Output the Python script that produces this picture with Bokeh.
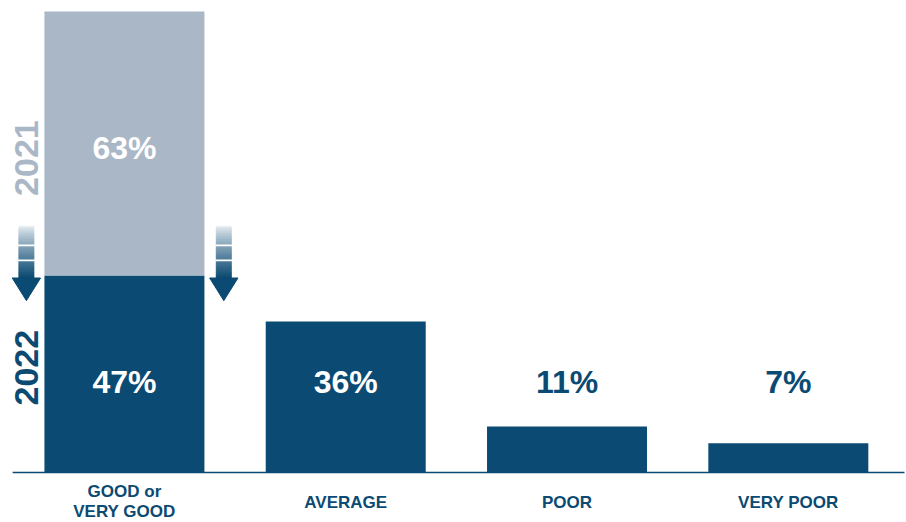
import numpy as np
from bokeh.plotting import figure
from bokeh.models import Range1d
from bokeh.core.properties import value
from bokeh.embed import file_html
from bokeh.resources import INLINE

# ---- data ----
categories = ["GOOD or\nVERY GOOD", "AVERAGE", "POOR", "VERY POOR"]
values_2022 = [47, 36, 11, 7]
values_2021_good = 63  # only the first category has a 2021 comparison
years = ["2021", "2022"]

DARK = "#0b4a72"
GRAY = "#aab7c7"
FONT = value("Liberation Sans")

p = figure(width=906, height=522, output_backend="svg", toolbar_location=None,
           min_border=0, min_border_left=0, min_border_right=0,
           min_border_top=0, min_border_bottom=0)
p.x_range = Range1d(-0.560, 3.534)
p.y_range = Range1d(-11.93, 112.6)
p.axis.visible = False
p.grid.visible = False
p.outline_line_color = None
p.background_fill_color = "white"
p.border_fill_color = "white"

xs = np.arange(len(categories))
bw = 0.723

# 2022 bars
p.vbar(x=xs, top=values_2022, bottom=0, width=bw, fill_color=DARK, line_color=None)
# 2021 stacked on top of first bar
p.vbar(x=[0], bottom=[values_2022[0]], top=[values_2022[0] + values_2021_good],
       width=bw, fill_color=GRAY, line_color=None)

# baseline
p.segment(x0=[xs[0] - 0.505], x1=[xs[-1] + 0.525], y0=[0], y1=[0],
          line_color=DARK, line_width=1.5)

# value labels
lab_y = 21.7
cols = ["white" if v > 20 else DARK for v in values_2022]
p.text(x=xs, y=[lab_y] * len(xs), text=[f"{v}%" for v in values_2022],
       text_color=cols, text_font=FONT, text_font_style="bold",
       text_font_size="32px", text_align="center", text_baseline="middle")
p.text(x=[0], y=[values_2022[0] + values_2021_good / 2 - 1.2],
       text=[f"{values_2021_good}%"], text_color="white", text_font=FONT,
       text_font_style="bold", text_font_size="32px",
       text_align="center", text_baseline="middle")

# category labels
for i, c in enumerate(categories):
    lines = c.split("\n")
    if len(lines) == 1:
        p.text(x=[xs[i]], y=[-7.2], text=[lines[0]], text_color=DARK, text_font=FONT,
               text_font_style="bold", text_font_size="17px",
               text_align="center", text_baseline="middle")
    else:
        for j, ln in enumerate(lines):
            p.text(x=[xs[i]], y=[-4.6 - j * 4.7], text=[ln], text_color=DARK, text_font=FONT,
                   text_font_style="bold", text_font_size="17px",
                   text_align="center", text_baseline="middle")

# rotated year labels
yx = -0.443
p.text(x=[yx], y=[75.0], text=[years[0]], angle=np.pi / 2, text_color=GRAY,
       text_font=FONT, text_font_style="bold", text_font_size="34px",
       text_align="center", text_baseline="middle")
p.text(x=[yx], y=[25.0], text=[years[1]], angle=np.pi / 2, text_color=DARK,
       text_font=FONT, text_font_style="bold", text_font_size="34px",
       text_align="center", text_baseline="middle")

# gradient arrows
def hexc(rgb):
    return "#%02x%02x%02x" % tuple(int(round(c)) for c in rgb)

c_top = np.array([235, 240, 244])
c_bot = np.array([11, 74, 114])
shaft_top, shaft_bot = 58.7, 46.3
head_tip = 41.0
shaft_hw = 0.034
head_hw = 0.064
gaps = [54.2, 50.6]
for ax in [-0.443, 0.449]:
    n = 24
    edges = np.linspace(shaft_top, shaft_bot, n + 1)
    lefts, rights, tops, bots, fills = [], [], [], [], []
    for k in range(n):
        t = (k + 0.5) / n
        col = c_top + (c_bot - c_top) * (t ** 0.8)
        lefts.append(ax - shaft_hw); rights.append(ax + shaft_hw)
        tops.append(edges[k]); bots.append(max(edges[k + 1] - 0.3, shaft_bot))
        fills.append(hexc(col))
    p.quad(left=lefts, right=rights, top=tops, bottom=bots, fill_color=fills,
           line_color=fills, line_width=0.6)
    for g in gaps:
        p.quad(left=[ax - shaft_hw - 0.005], right=[ax + shaft_hw + 0.005], top=[g + 0.22],
               bottom=[g - 0.22], fill_color="white", line_color=None)
    p.patch(x=[ax - head_hw, ax + head_hw, ax], y=[shaft_bot + 0.1, shaft_bot + 0.1, head_tip],
            fill_color=DARK, line_color=DARK, line_width=1, line_join="round")

open("out.html", "w").write(file_html(p, INLINE))
